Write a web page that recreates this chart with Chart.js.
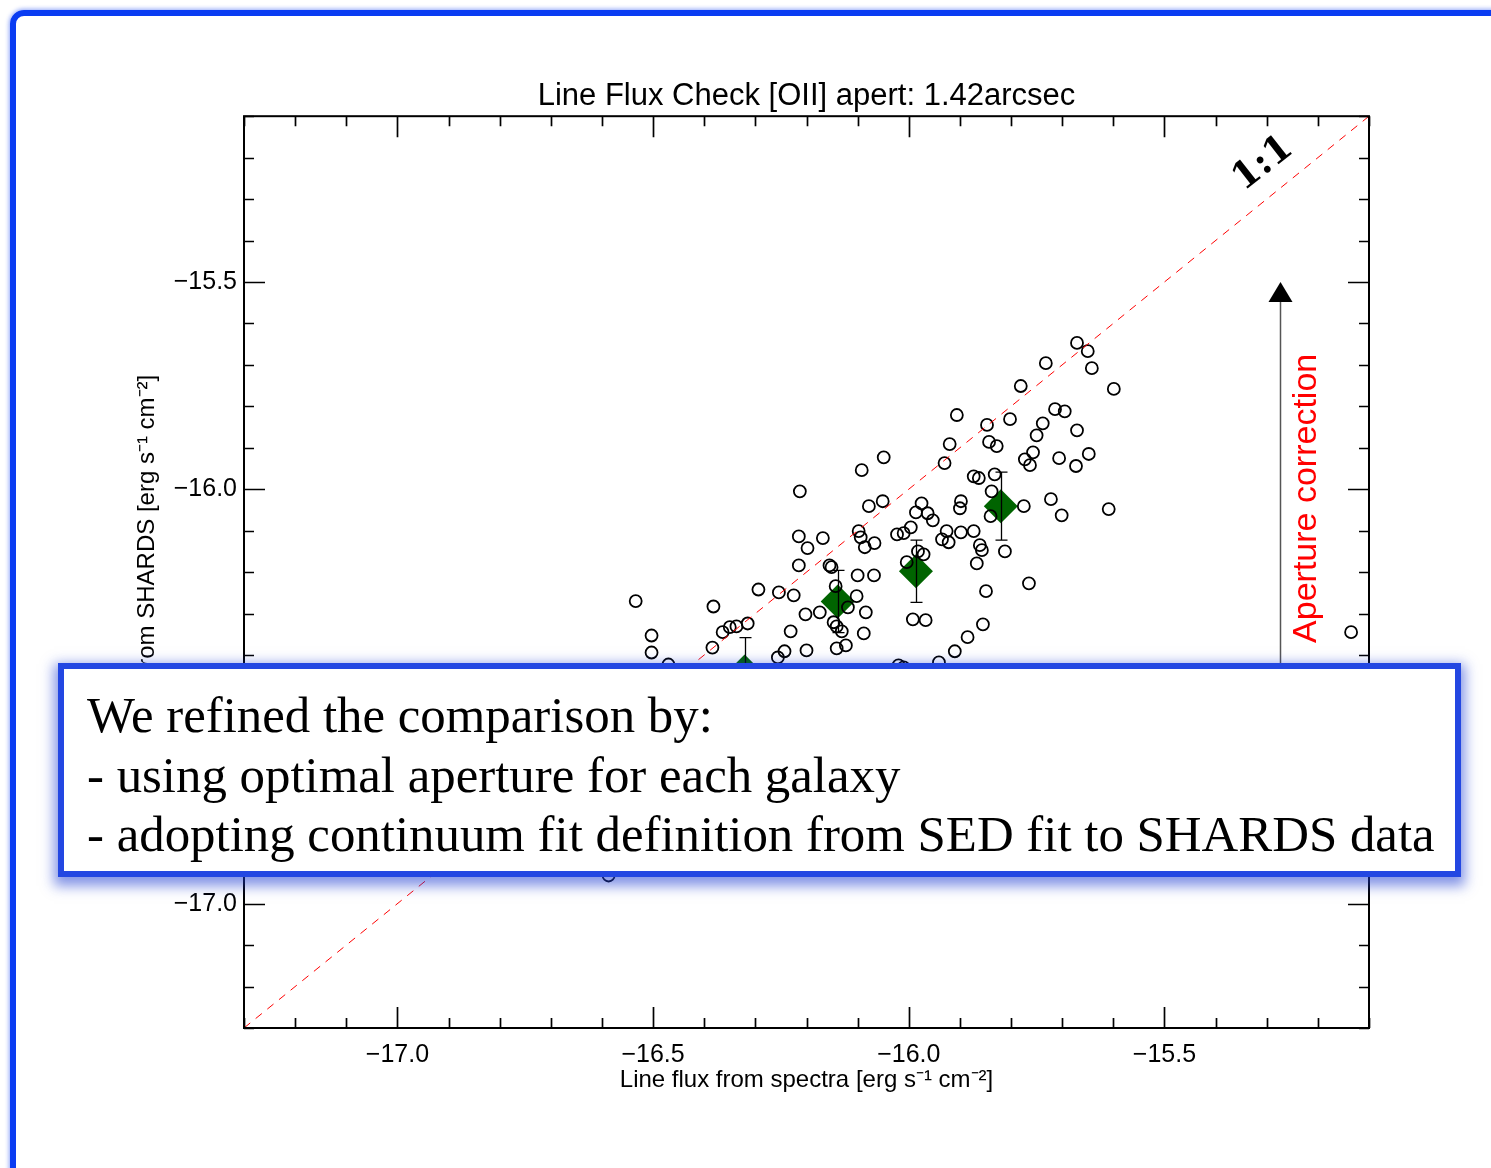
<!DOCTYPE html>
<html>
<head>
<meta charset="utf-8">
<title>Line Flux Check [OII]</title>
<script src="https://cdn.jsdelivr.net/npm/chart.js@4.4.1/dist/chart.umd.min.js"></script>
<style>
  html, body { margin: 0; padding: 0; background: #fff; }
  body { width: 1491px; height: 1168px; position: relative; overflow: hidden; }
  #fluxChart { position: absolute; left: 0; top: 0; }
  .slide-frame {
    position: absolute; left: 10px; top: 10px; width: 1700px; height: 1400px;
    box-sizing: border-box; border: 6px solid #0a3cf2; border-radius: 14px;
    box-shadow: 0 0 4px 1px rgba(10, 60, 242, 0.45);
  }
  .note {
    position: absolute; left: 58px; top: 663px; width: 1403px; height: 214px;
    box-sizing: border-box; background: #fff; border: 6px solid #2347e2;
    box-shadow: 0 5px 12px 4px rgba(30, 60, 210, 0.55);
    font-family: "Liberation Serif", "Times New Roman", serif; color: #000;
  }
  .note div { position: absolute; left: 23px; white-space: nowrap; line-height: 1; }
</style>
</head>
<body>
<canvas id="fluxChart" width="1491" height="1168"></canvas>
<div class="slide-frame"></div>
<div class="note" id="note">
  <div>We refined the comparison by:</div>
  <div>- using optimal aperture for each galaxy</div>
  <div id="longLine">- adopting continuum fit definition from SED fit to SHARDS data</div>
</div>
<script>
// axis ranges (log flux)
const X_MIN = -17.3, X_MAX = -15.1;
const Y_MIN = -17.3, Y_MAX = -15.1;

const xTickValues = [-17.0, -16.5, -16.0, -15.5];
const xTickLabels = ["\u221217.0", "\u221216.5", "\u221216.0", "\u221215.5"];
const yTickValues = [-17.0, -16.5, -16.0, -15.5];
const yTickLabels = ["\u221217.0", "\u221216.5", "\u221216.0", "\u221215.5"];

// individual galaxies: flux from spectra vs flux from SHARDS
const specFlux = [
  -16.534, -16.503, -16.503, -16.470, -16.382, -16.384, -16.364, -16.350, -16.337, -16.315,
  -16.294, -16.254, -16.225, -16.213, -16.215, -16.198, -16.168, -16.215, -16.155, -16.151,
  -16.143, -16.100, -16.068, -16.102, -16.174, -16.202, -16.231, -16.243, -16.256, -16.200,
  -16.147, -16.141, -16.131, -16.141, -16.123, -16.088, -16.084, -16.119, -16.092, -16.049,
  -16.078, -16.051, -16.098, -16.094, -16.086, -16.067, -16.023, -16.010, -15.996, -15.671,
  -15.650, -15.642, -15.732, -15.781, -15.599, -15.906, -15.714, -15.695, -15.802, -15.847,
  -15.738, -15.750, -15.671, -15.843, -15.828, -15.920, -15.930, -15.757, -15.773, -15.763,
  -15.706, -15.673, -15.648, -15.873, -15.863, -15.832, -15.838, -15.975, -15.986, -15.963,
  -15.953, -15.898, -15.900, -15.926, -15.935, -15.922, -15.898, -15.873, -15.840, -15.775,
  -15.722, -15.701, -15.609, -15.861, -15.857, -15.867, -15.982, -15.971, -16.004, -15.812,
  -15.849, -15.765, -15.992, -15.967, -15.855, -15.885, -15.910, -15.941, -16.020, -16.010,
  -15.135, -16.587, -16.200, -16.057, -16.638
];
const shardsFlux = [
  -16.270, -16.353, -16.394, -16.423, -16.283, -16.382, -16.345, -16.333, -16.331, -16.324,
  -16.242, -16.249, -16.256, -16.005, -16.114, -16.142, -16.118, -16.184, -16.184, -16.188,
  -16.234, -16.208, -16.208, -16.258, -16.297, -16.302, -16.343, -16.391, -16.406, -16.389,
  -16.321, -16.331, -16.343, -16.384, -16.377, -16.348, -16.297, -16.285, -15.954, -15.923,
  -16.041, -16.029, -16.101, -16.116, -16.140, -16.130, -16.109, -16.106, -16.092, -15.647,
  -15.667, -15.708, -15.696, -15.751, -15.758, -15.821, -15.807, -15.812, -15.831, -15.845,
  -15.841, -15.870, -15.858, -15.886, -15.896, -15.891, -15.937, -15.911, -15.928, -15.942,
  -15.925, -15.944, -15.915, -15.969, -15.973, -15.964, -16.005, -16.034, -16.056, -16.058,
  -16.075, -16.029, -16.046, -16.101, -16.121, -16.128, -16.104, -16.101, -16.065, -16.041,
  -16.024, -16.063, -16.048, -16.135, -16.147, -16.179, -16.150, -16.157, -16.176, -16.150,
  -16.246, -16.227, -16.314, -16.316, -16.326, -16.357, -16.391, -16.418, -16.425, -16.430,
  -16.345, -16.932, -16.440, -16.440, -16.440
];

// binned medians with error bars
const binX = [-16.321, -16.139, -15.986, -15.820];
const binY = [-16.440, -16.271, -16.198, -16.041];
const binErrHi = [0.082, 0.075, 0.075, 0.082];
const binErrLo = [0.082, 0.075, 0.075, 0.082];

const oneToOne = [X_MIN, X_MAX];

// annotation anchors (data units)
const labelOneX = -15.307, labelOneY = -15.215;
const arrowX = -15.274, arrowTail = -16.6, arrowTip = -15.5;
const apertX = -15.222, apertY = -16.022;

const SANS = "'Liberation Sans', Arial, Helvetica, sans-serif";

const framePlugin = {
  id: "frameTicks",
  afterDatasetsDraw(chart) {
    const { ctx, chartArea: a, scales: { x, y } } = chart;
    ctx.save();
    ctx.strokeStyle = "#000";
    ctx.lineWidth = 2;
    ctx.strokeRect(a.left, a.top, a.right - a.left, a.bottom - a.top);
    ctx.lineWidth = 1.7;
    ctx.beginPath();
    for (let k = Math.ceil(X_MIN * 10); k <= Math.floor(X_MAX * 10); k++) {
      const len = k % 5 === 0 ? 21 : 10;
      const px = Math.round(x.getPixelForValue(k / 10)) + 0.5;
      ctx.moveTo(px, a.bottom); ctx.lineTo(px, a.bottom - len);
      ctx.moveTo(px, a.top); ctx.lineTo(px, a.top + len);
    }
    for (let k = Math.ceil(Y_MIN * 10); k <= Math.floor(Y_MAX * 10); k++) {
      const len = k % 5 === 0 ? 21 : 10;
      const py = Math.round(y.getPixelForValue(k / 10)) + 0.5;
      ctx.moveTo(a.left, py); ctx.lineTo(a.left + len, py);
      ctx.moveTo(a.right, py); ctx.lineTo(a.right - len, py);
    }
    ctx.stroke();
    ctx.restore();
  }
};

const errorBarPlugin = {
  id: "errorBars",
  afterDatasetsDraw(chart) {
    const { ctx, scales: { x, y } } = chart;
    ctx.save();
    ctx.strokeStyle = "#000";
    ctx.lineWidth = 1.3;
    ctx.beginPath();
    binX.forEach((bx, i) => {
      const px = Math.round(x.getPixelForValue(bx)) + 0.5;
      const top = y.getPixelForValue(binY[i] + binErrHi[i]);
      const bot = y.getPixelForValue(binY[i] - binErrLo[i]);
      ctx.moveTo(px, top); ctx.lineTo(px, bot);
      ctx.moveTo(px - 6, top); ctx.lineTo(px + 6, top);
      ctx.moveTo(px - 6, bot); ctx.lineTo(px + 6, bot);
    });
    ctx.stroke();
    ctx.restore();
  }
};

const notesPlugin = {
  id: "notes",
  afterDatasetsDraw(chart) {
    const { ctx, scales: { x, y } } = chart;
    ctx.save();

    // 1:1 label along the diagonal
    ctx.translate(x.getPixelForValue(labelOneX), y.getPixelForValue(labelOneY));
    ctx.rotate(-38 * Math.PI / 180);
    ctx.font = "bold 37px 'DejaVu Serif', serif";
    ctx.fillStyle = "#000";
    ctx.textAlign = "center";
    ctx.textBaseline = "middle";
    ctx.fillText("1:1", 0, 0);
    ctx.setTransform(1, 0, 0, 1, 0, 0);

    // aperture correction arrow
    const ax = Math.round(x.getPixelForValue(arrowX)) + 0.5;
    const tip = y.getPixelForValue(arrowTip);
    ctx.strokeStyle = "#555";
    ctx.lineWidth = 1.5;
    ctx.beginPath();
    ctx.moveTo(ax, y.getPixelForValue(arrowTail));
    ctx.lineTo(ax, tip + 18);
    ctx.stroke();
    ctx.fillStyle = "#000";
    ctx.beginPath();
    ctx.moveTo(ax, tip);
    ctx.lineTo(ax + 12, tip + 20);
    ctx.lineTo(ax - 12, tip + 20);
    ctx.closePath();
    ctx.fill();

    ctx.translate(x.getPixelForValue(apertX), y.getPixelForValue(apertY));
    ctx.rotate(-Math.PI / 2);
    ctx.font = "34px " + SANS;
    ctx.fillStyle = "#ff0000";
    ctx.textAlign = "center";
    ctx.textBaseline = "middle";
    ctx.fillText("Aperture correction", 0, 0);
    ctx.restore();
  }
};

const chart = new Chart(document.getElementById("fluxChart"), {
  type: "scatter",
  data: {
    datasets: [
      {
        type: "line",
        label: "1:1",
        data: oneToOne.map(v => ({ x: v, y: v })),
        borderColor: "#ff0000",
        borderWidth: 1,
        borderDash: [8, 7],
        pointRadius: 0,
        fill: false
      },
      {
        label: "galaxies",
        data: specFlux.map((v, i) => ({ x: v, y: shardsFlux[i] })),
        pointStyle: "circle",
        pointRadius: 6,
        borderColor: "#000",
        borderWidth: 1.8,
        backgroundColor: "rgba(0,0,0,0)"
      },
      {
        label: "median",
        data: binX.map((v, i) => ({ x: v, y: binY[i] })),
        pointStyle: "rectRot",
        pointRadius: 17,
        borderWidth: 0,
        backgroundColor: "#006400"
      },
      {
        label: "median inner",
        data: binX.map((v, i) => ({ x: v, y: binY[i] })),
        pointStyle: "rectRot",
        pointRadius: 6.5,
        borderWidth: 1.3,
        borderColor: "#3cf0a0",
        backgroundColor: "rgba(0,0,0,0)"
      }
    ]
  },
  options: {
    responsive: false,
    animation: false,
    events: [],
    layout: { padding: { top: 78, right: 122, left: 0, bottom: 0 } },
    plugins: {
      legend: { display: false },
      tooltip: { enabled: false },
      title: {
        display: true,
        fullSize: false,
        text: "Line Flux Check [OII] apert: 1.42arcsec",
        color: "#000",
        font: { family: SANS, size: 31, weight: "normal", lineHeight: 1.2 },
        padding: { top: 0, bottom: 1 }
      }
    },
    scales: {
      x: {
        type: "linear",
        min: X_MIN,
        max: X_MAX,
        afterBuildTicks: s => { s.ticks = xTickValues.map(v => ({ value: v })); },
        afterFit: s => { s.height = 140; },
        grid: { display: false, drawTicks: false },
        border: { display: false },
        ticks: {
          autoSkip: false,
          maxRotation: 0,
          padding: 12,
          color: "#000",
          font: { family: SANS, size: 25 },
          callback: (v, i) => xTickLabels[i]
        },
        title: {
          display: true,
          text: "Line flux from spectra [erg s\u207B\u00B9 cm\u207B\u00B2]",
          color: "#000",
          font: { family: SANS, size: 24, lineHeight: 1.2 },
          padding: { top: 0, bottom: 73 }
        }
      },
      y: {
        type: "linear",
        min: Y_MIN,
        max: Y_MAX,
        afterBuildTicks: s => { s.ticks = yTickValues.map(v => ({ value: v })); },
        afterFit: s => { s.width = 244; },
        grid: { display: false, drawTicks: false },
        border: { display: false },
        ticks: {
          autoSkip: false,
          padding: 7,
          color: "#000",
          font: { family: SANS, size: 25 },
          callback: (v, i) => yTickLabels[i]
        },
        title: {
          display: true,
          text: "Line flux from SHARDS [erg s\u207B\u00B9 cm\u207B\u00B2]",
          color: "#000",
          font: { family: SANS, size: 24, lineHeight: 1.2 },
          padding: { top: 133, bottom: 0 }
        }
      }
    }
  },
  plugins: [framePlugin, errorBarPlugin, notesPlugin]
});

// fit the note text so the longest line spans the same width as on the slide
(function fitNote() {
  const lines = document.querySelectorAll("#note div");
  const longLine = document.getElementById("longLine");
  let size = 51;
  lines.forEach(l => { l.style.fontSize = size + "px"; });
  size = size * 1348 / longLine.getBoundingClientRect().width;
  const baselines = [64, 124, 183];
  lines.forEach((l, i) => {
    l.style.fontSize = size + "px";
    l.style.top = (baselines[i] - 0.84 * size) + "px";
  });
})();
</script>
</body>
</html>
